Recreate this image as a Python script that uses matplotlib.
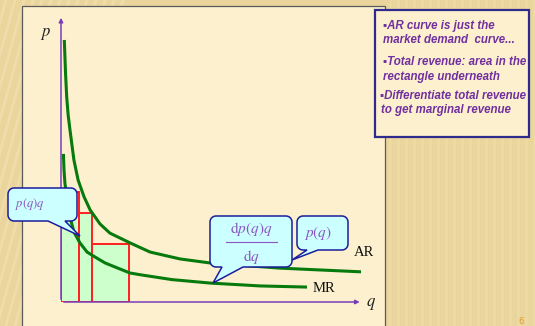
import numpy as np
import matplotlib
matplotlib.use("Agg")
import matplotlib.pyplot as plt
from matplotlib.patches import Rectangle, Polygon

plt.rcParams['mathtext.fontset'] = 'stix'

# average revenue (demand) curve, read as (q, p)
ar_q = [0.11, 0.15, 0.19, 0.24, 0.30, 0.43, 0.57, 0.77, 0.97, 1.30, 1.63, 2.30, 2.97, 3.97, 4.97, 7.30, 10.03]
ar_p = [9.13, 8.00, 7.14, 6.50, 5.99, 4.95, 4.25, 3.66, 3.21, 2.72, 2.40, 2.06, 1.74, 1.50, 1.36, 1.18, 1.05]

# marginal revenue curve
mr_q = [0.08, 0.10, 0.13, 0.20, 0.30, 0.43, 0.63, 0.87, 1.13, 1.47, 1.80, 2.30, 2.70, 3.70, 4.97, 6.63, 8.20]
mr_p = [5.16, 4.60, 4.15, 3.55, 2.96, 2.44, 2.06, 1.74, 1.57, 1.36, 1.22, 1.01, 0.94, 0.78, 0.66, 0.56, 0.52]

# revenue rectangles p(q)*q under the demand curve
rect_left = [0.0, 0.60, 1.03]
rect_width = [0.60, 0.43, 1.24]
rect_height = [3.83, 3.10, 2.02]

notes = [
    ("\u25aaAR curve is just the", 383, 26),
    ("market demand  curve...", 383, 40),
    ("\u25aaTotal revenue: area in the", 383, 62),
    ("rectangle underneath", 383, 77),
    ("\u25aaDifferentiate total revenue", 380, 96),
    ("to get marginal revenue", 381, 110),
]

W, H = 535, 326
BG = '#ead59c'
PANEL = '#fdf0cf'
PURPLE = '#7030a0'
MATH = '#8a55c0'
CALL_FILL = '#ccffff'
CALL_EDGE = '#1c1c9c'


def callout(ax, x0, y0, x1, y1, base_a, base_b, tip, r=6):
    """Rounded box with a pointer leaving its bottom edge."""
    def arc(cx, cy, t0, t1):
        t = np.radians(np.linspace(t0, t1, 8))
        return list(zip(cx + r * np.cos(t), cy - r * np.sin(t)))
    pts = []
    pts += arc(x1 - r, y0 + r, 90, 0)
    pts += arc(x1 - r, y1 - r, 0, -90)
    pts += [(base_b, y1), tip, (base_a, y1)]
    pts += arc(x0 + r, y1 - r, -90, -180)
    pts += arc(x0 + r, y0 + r, -180, -270)
    ax.add_patch(Polygon(pts, closed=True, facecolor=CALL_FILL,
                         edgecolor=CALL_EDGE, lw=1.1, zorder=5))


fig = plt.figure(figsize=(W / 100, H / 100), dpi=100)
fig.patch.set_facecolor(BG)

# slide background and content panel
bg = fig.add_axes([0, 0, 1, 1], zorder=0)
bg.set_xlim(0, W)
bg.set_ylim(H, 0)
bg.axis('off')
for x in range(-120, 40, 9):
    bg.plot([x, x + 90], [H, 0], color='#f4e3b6', lw=2.0, alpha=0.55, zorder=1)
for x in range(390, W, 8):
    bg.plot([x, x], [0, H], color='#f1dfae', lw=1.8, alpha=0.5, zorder=1)
bg.add_patch(Rectangle((22, 6), 363, 330, facecolor=PANEL, edgecolor='#5a5a5a',
                       lw=0.9, zorder=3))

# the chart itself
ax = fig.add_axes([61 / W, (H - 302) / H, 300 / W, 287 / H], zorder=1)
ax.set_xlim(0, 10)
ax.set_ylim(0, 10)
ax.patch.set_alpha(0)
ax.axis('off')

ax.bar(rect_left, rect_height, width=rect_width, align='edge',
       facecolor='#ccffcc', edgecolor='#ff2020', lw=1.4, zorder=2)
ax.plot(ar_q, ar_p, color='#067a0c', lw=2.2, zorder=3, solid_capstyle='butt')
ax.plot(mr_q, mr_p, color='#067a0c', lw=2.2, zorder=3, solid_capstyle='butt')

arrow = dict(arrowstyle='-|>', color='#7a3cb8', lw=1.1, mutation_scale=6)
ax.annotate('', xy=(0, 1.0), xytext=(0, 0), xycoords='axes fraction', arrowprops=arrow, zorder=4)
ax.annotate('', xy=(1.005, 0), xytext=(0, 0), xycoords='axes fraction', arrowprops=arrow, zorder=4)

# overlay: labels, callouts and notes box
fg = fig.add_axes([0, 0, 1, 1], zorder=2)
fg.set_xlim(0, W)
fg.set_ylim(H, 0)
fg.patch.set_alpha(0)
fg.axis('off')

fg.text(46, 33, r'$p$', fontsize=12, color='#202020', ha='center', va='center')
fg.text(371, 303, r'$q$', fontsize=12, color='#202020', ha='center', va='center')
fg.text(364, 253, 'AR', fontsize=10.5, family='Liberation Serif', color='#101010',
        ha='center', va='center')
fg.text(324, 288, 'MR', fontsize=10.5, family='Liberation Serif', color='#101010',
        ha='center', va='center')

callout(fg, 8, 188, 77, 221, 48, 65, (80, 236))
fg.text(30, 204, r'$p(q)q$', fontsize=9, color=MATH, ha='center', va='center', zorder=6)

callout(fg, 210, 216, 292, 267, 222, 243, (213, 283))
fg.text(251, 229, r'$\mathrm{d}p(q)q$', fontsize=11, color=MATH, ha='center', va='center', zorder=6)
fg.plot([226, 277], [242, 242], color=MATH, lw=0.8, zorder=6)
fg.text(251, 257, r'$\mathrm{d}q$', fontsize=11, color=MATH, ha='center', va='center', zorder=6)

callout(fg, 297, 216, 348, 250, 307, 318, (292, 260))
fg.text(318, 233, r'$p(q)$', fontsize=11, color=MATH, ha='center', va='center', zorder=6)

fg.add_patch(Rectangle((375, 10), 154, 127, facecolor=PANEL, edgecolor='#2f2a8e',
                       lw=1.6, zorder=5))
for line, x, y in notes:
    fg.text(x, y, line, fontsize=8.3, family=['Liberation Sans', 'DejaVu Sans'],
            weight='bold', style='italic', color=PURPLE, ha='left', va='center', zorder=6)

fg.text(521, 321, '6', fontsize=6, color='#e09a30', ha='center', va='center')

fig.savefig('out.png', dpi=100, facecolor=fig.get_facecolor())
